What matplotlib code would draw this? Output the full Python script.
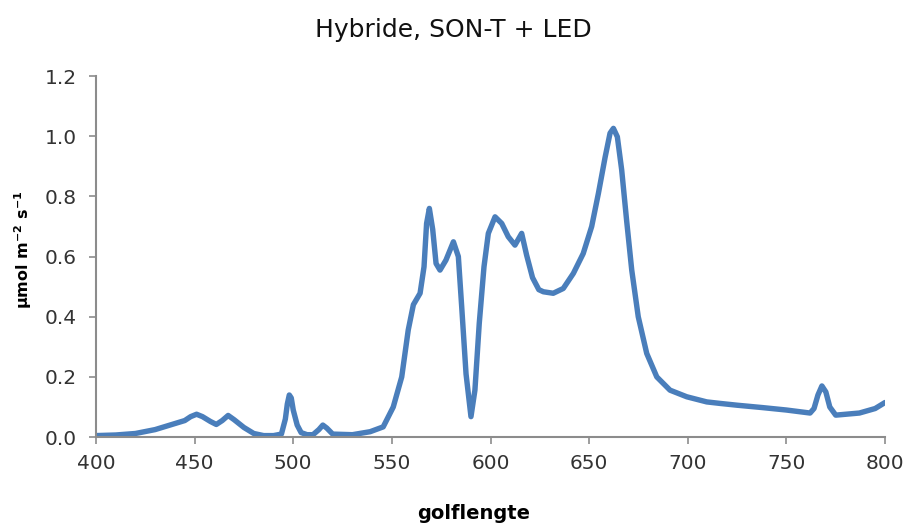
import matplotlib
matplotlib.use("Agg")
import matplotlib.pyplot as plt

wavelength = [400, 410, 420, 430, 440, 445, 448, 451, 454, 458, 461, 464, 467, 470, 475, 480,
              485, 490, 494, 496, 497, 498, 499, 500, 502, 504, 507, 510, 513, 515, 517, 520,
              530, 539, 545.6, 550.7, 555, 558.3, 560.9, 564.3, 566.3, 567.6, 569, 570.7, 572.4,
              574.4, 577.4, 581.2, 583.7, 585.4, 587.6, 590.1, 592.1, 594.3, 596.7, 598.9,
              602.3, 605.7, 609, 612.4, 615.8, 618.3, 621.3, 624.5, 626.8, 631.8, 636.9, 642,
              647, 651.3, 654.7, 658.1, 660.6, 662.3, 664.3, 666.5, 669, 671.6, 674.9, 679.2,
              684.3, 691, 699.5, 709.6, 716.3, 725, 738, 750, 762, 764, 766, 768, 770, 772, 775,
              787, 795, 800]
intensity = [0.005, 0.007, 0.012, 0.025, 0.045, 0.055, 0.068, 0.076, 0.068, 0.052, 0.042,
             0.055, 0.072, 0.058, 0.032, 0.012, 0.005, 0.005, 0.01, 0.06, 0.11, 0.14, 0.13,
             0.09, 0.04, 0.015, 0.008, 0.008, 0.025, 0.04, 0.03, 0.01, 0.008, 0.018, 0.034,
             0.10, 0.20, 0.356, 0.44, 0.478, 0.566, 0.71, 0.76, 0.69, 0.577, 0.555, 0.588, 0.649,
             0.60, 0.433, 0.21, 0.068, 0.156, 0.378, 0.566, 0.677, 0.732, 0.71, 0.666, 0.638,
             0.677, 0.605, 0.53, 0.49, 0.483, 0.478, 0.494, 0.544, 0.61, 0.70, 0.81, 0.93, 1.01,
             1.026, 0.998, 0.888, 0.72, 0.555, 0.40, 0.278, 0.20, 0.156, 0.134, 0.117, 0.112,
             0.106, 0.098, 0.09, 0.08, 0.095, 0.14, 0.17, 0.15, 0.10, 0.073, 0.08, 0.095, 0.115]

x_ticks = [400, 450, 500, 550, 600, 650, 700, 750, 800]
y_ticks = [0.0, 0.2, 0.4, 0.6, 0.8, 1.0, 1.2]
title = "Hybride, SON-T + LED"
xlabel = "golflengte"
ylabel = "µmol m$^{\\mathbf{-2}}$ s$^{\\mathbf{-1}}$"

fig = plt.figure(figsize=(9.08, 5.26), dpi=100)
ax = fig.add_axes([0.1057, 0.169, 0.869, 0.6865])
ax.plot(wavelength, intensity, color="#4a7ebb", lw=3.9, solid_joinstyle="round",
        solid_capstyle="round")
ax.set_xlim(400, 800)
ax.set_ylim(0, 1.2)
ax.set_xticks(x_ticks)
ax.set_yticks(y_ticks)
ax.set_yticklabels([f"{v:.1f}" for v in y_ticks])
for s in ["top", "right"]:
    ax.spines[s].set_visible(False)
for s in ["left", "bottom"]:
    ax.spines[s].set_color("#8c8c8c")
    ax.spines[s].set_linewidth(1.5)
ax.tick_params(direction="out", length=5, width=1.2, color="#8c8c8c",
               labelsize=14.5, labelcolor="#333333")
ax.tick_params(axis="y", pad=9)
ax.tick_params(axis="x", pad=7)
fig.text(0.499, 0.943, title, ha="center", va="center", fontsize=18, color="#111111")
fig.text(0.522, 0.024, xlabel, ha="center", va="center", fontsize=14, fontweight="bold")
fig.text(0.026, 0.525, ylabel, ha="center", va="center", rotation=90, fontsize=11.5,
         fontweight="bold")
fig.savefig("out.png", dpi=100, facecolor="white")
